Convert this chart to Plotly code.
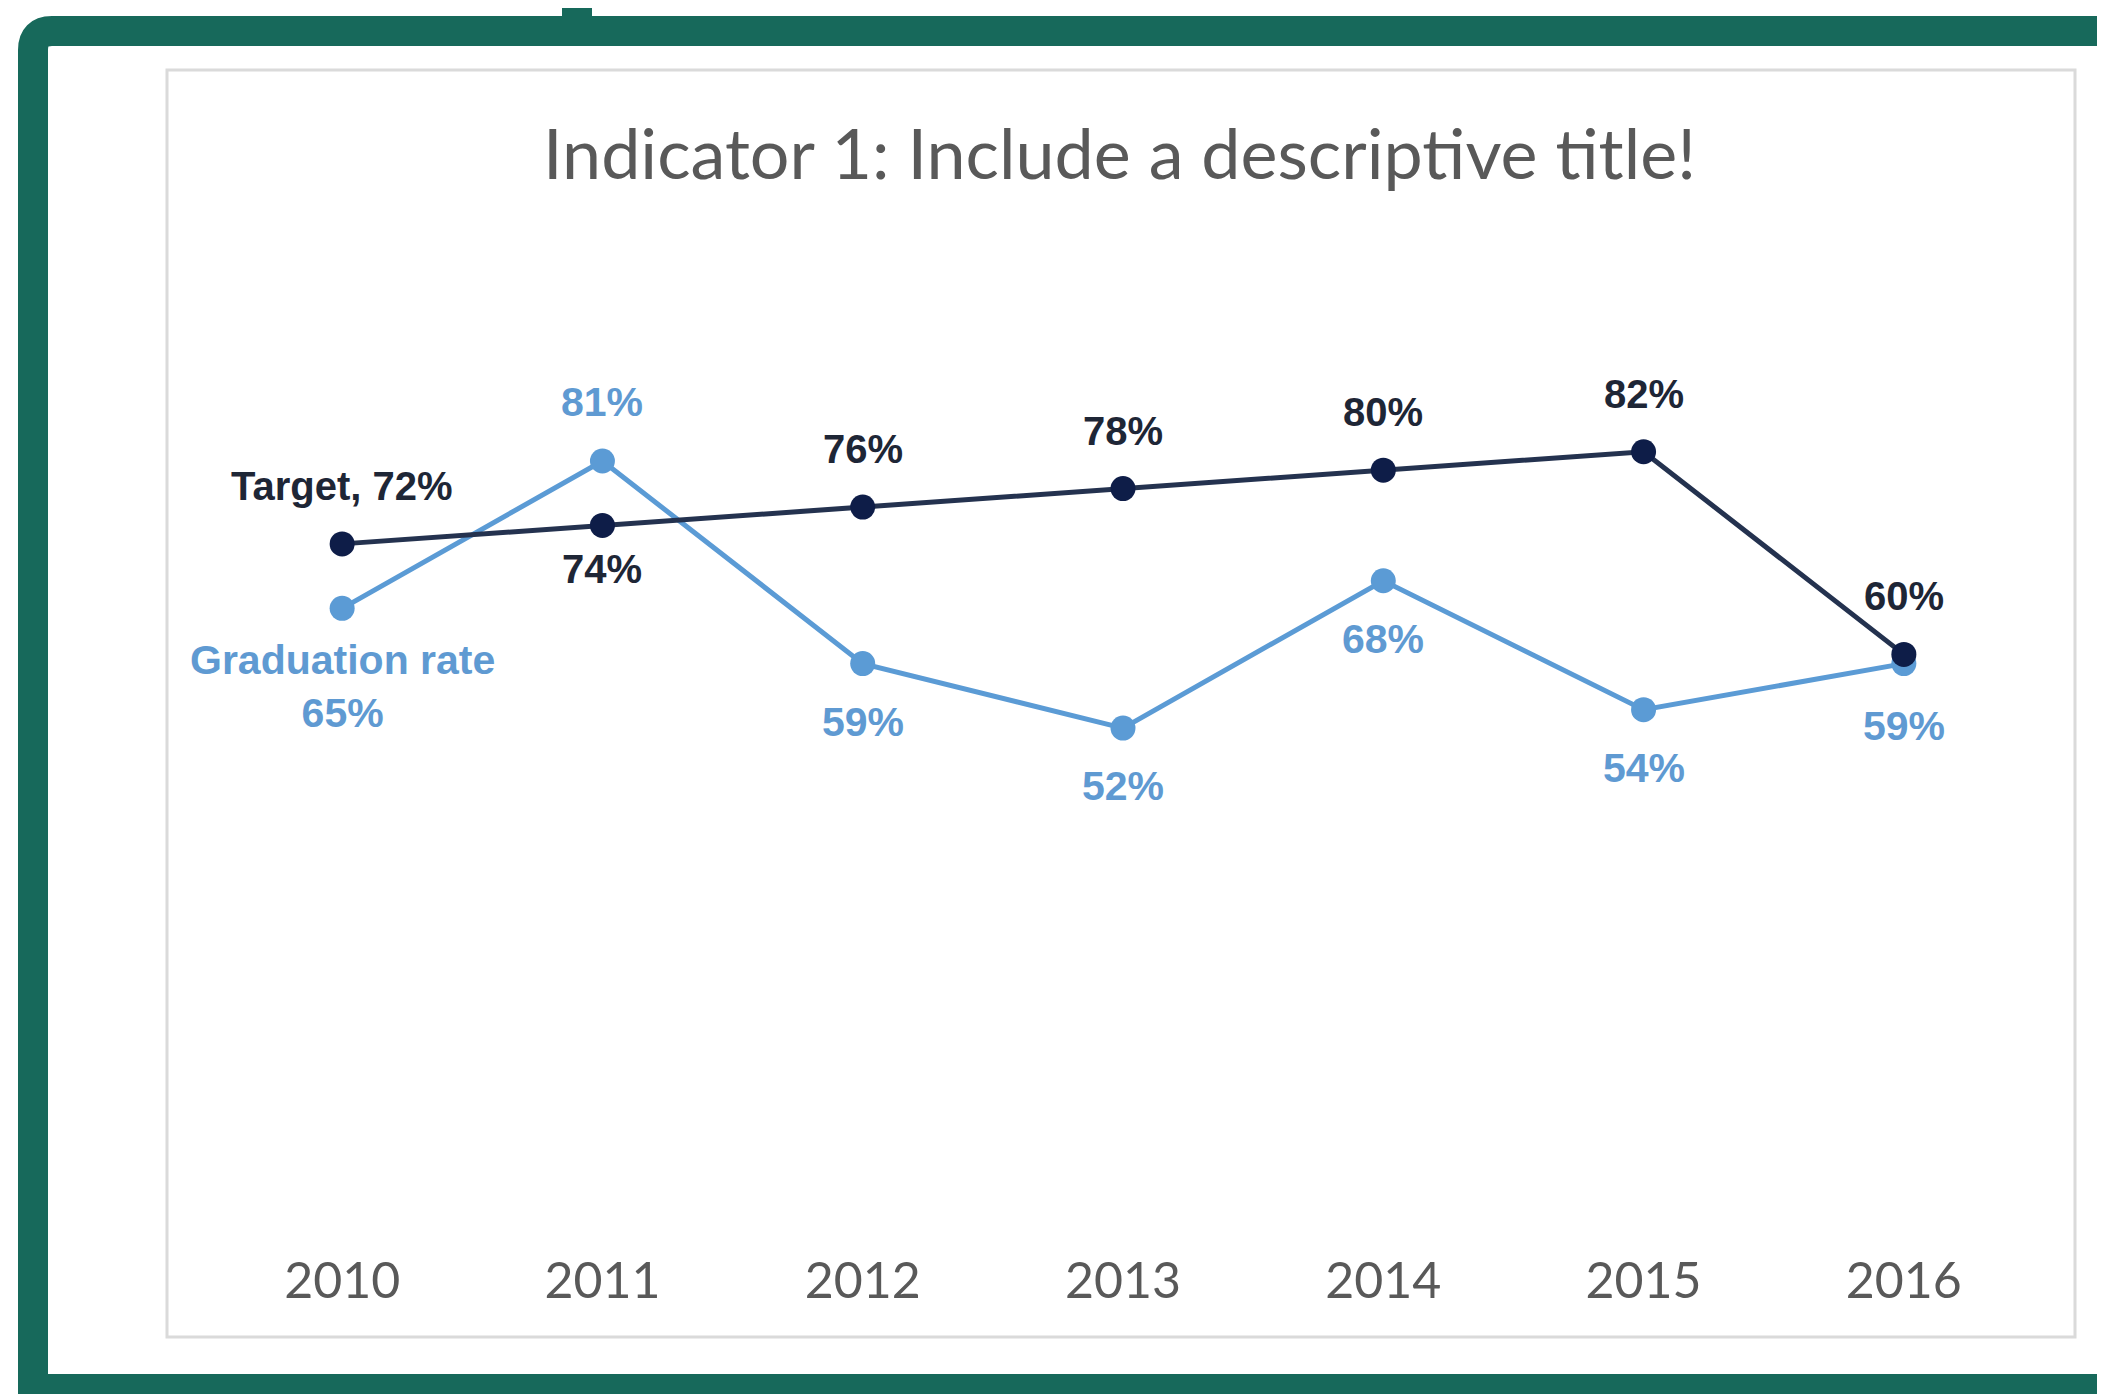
import plotly.graph_objects as go

# ---- data ----
years = ["2010", "2011", "2012", "2013", "2014", "2015", "2016"]
target = [72, 74, 76, 78, 80, 82, 60]
graduation = [65, 81, 59, 52, 68, 54, 59]
title_text = "Indicator 1: Include a descriptive title!"

# ---- styling / placement (not data) ----
PAGE_W, PAGE_H = 2105, 1394
OFF = 8  # browser body margin
W, H = PAGE_W - OFF, PAGE_H - OFF
GREEN = "#17695B"
TARGET_LINE = "#24324F"
TARGET_MARK = "#0E1D48"
TARGET_TEXT = "#1E2636"
GRAD = "#5B9BD5"
GRAD_TEXT = "#5F9AD2"
LABEL_FONT = "Liberation Sans, Arial, sans-serif"

target_shift = [58, -44, 58, 58, 58, 58, 58]
grad_shift = [-78, 59, -58, -58, -58, -58, -62]


def px(x):
    return (x - OFF) / W


def py(y):
    return 1 - (y - OFF) / H


fig = go.Figure()

fig.add_trace(go.Scatter(
    x=years, y=graduation, mode="lines+markers", name="Graduation rate",
    line=dict(color=GRAD, width=5),
    marker=dict(color=GRAD, size=25),
    hoverinfo="skip",
))
fig.add_trace(go.Scatter(
    x=years, y=target, mode="lines+markers", name="Target",
    line=dict(color=TARGET_LINE, width=5),
    marker=dict(color=TARGET_MARK, size=25),
    hoverinfo="skip",
))

annotations = []
for i, v in enumerate(target):
    txt = f"Target, {v}%" if i == 0 else f"{v}%"
    annotations.append(dict(
        x=i, y=v, xref="x", yref="y", text=txt, showarrow=False,
        yshift=target_shift[i], xanchor="center", yanchor="middle",
        font=dict(family=LABEL_FONT, size=40, color=TARGET_TEXT, weight="bold"),
    ))
for i, v in enumerate(graduation):
    txt = f"Graduation rate<br>{v}%" if i == 0 else f"{v}%"
    annotations.append(dict(
        x=i, y=v, xref="x", yref="y", text=txt, showarrow=False,
        yshift=grad_shift[i], xanchor="center", yanchor="middle",
        font=dict(family=LABEL_FONT, size=41, color=GRAD_TEXT, weight="bold"),
    ))

annotations.append(dict(
    x=px(1119), y=py(152), xref="paper", yref="paper", text=title_text,
    showarrow=False, xanchor="center", yanchor="middle",
    font=dict(family="Lato, Open Sans, sans-serif", size=70, color="#595959"),
))

shapes = [
    # chart area box
    dict(type="rect", xref="paper", yref="paper",
         x0=px(167), x1=px(2075), y0=py(1337), y1=py(70),
         line=dict(color="#DADADA", width=3), fillcolor="rgba(0,0,0,0)", layer="below"),
    # green frame (top, rounded corner, left, bottom)
    dict(type="path", xref="paper", yref="paper",
         path=(f"M {px(2200)},{py(31)} L {px(52)},{py(31)} "
               f"Q {px(33)},{py(31)} {px(33)},{py(50)} "
               f"L {px(33)},{py(1389)} L {px(2200)},{py(1389)}"),
         line=dict(color=GREEN, width=30), fillcolor="rgba(0,0,0,0)", layer="above"),
    # small stub at the top
    dict(type="rect", xref="paper", yref="paper",
         x0=px(562), x1=px(592), y0=py(20), y1=py(0),
         line=dict(width=0), fillcolor=GREEN, layer="above"),
]

fig.update_layout(
    width=W, height=H,
    margin=dict(l=0, r=0, t=0, b=0),
    paper_bgcolor="white", plot_bgcolor="white",
    showlegend=False,
    annotations=annotations,
    shapes=shapes,
    xaxis=dict(
        type="category", range=[-0.5, 6.5],
        domain=[px(212), px(2034)],
        showgrid=False, zeroline=False, showline=False, ticks="",
        tickfont=dict(family="Lato, Open Sans, sans-serif", size=50, color="#595959"),
        ticklabelstandoff=40,
    ),
    yaxis=dict(
        range=[0, 100], domain=[py(1207), py(286)],
        showgrid=False, zeroline=False, showline=False,
        showticklabels=False, ticks="",
    ),
)

fig.write_html("out.html")
